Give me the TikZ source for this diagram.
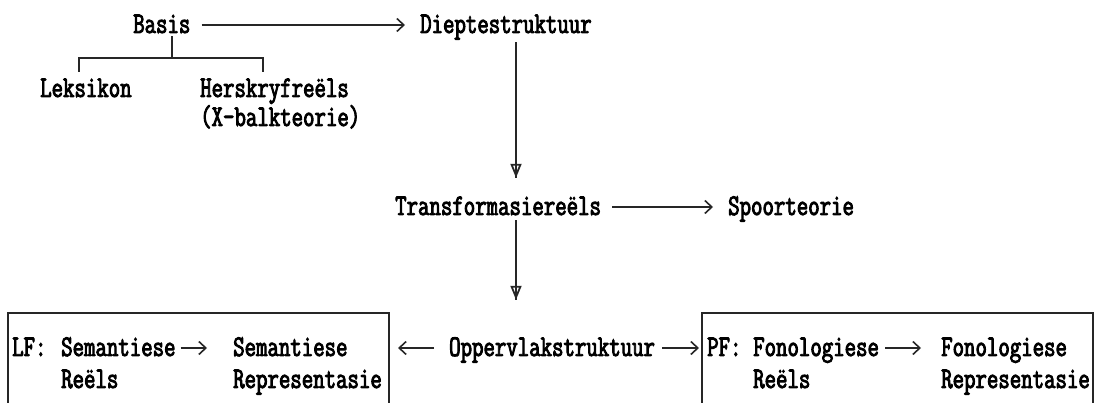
\documentclass[tikz,border=0pt]{standalone}
\usepackage{fontspec}
\setmonofont{Latin Modern Mono}[FakeStretch=0.74, FakeBold=3]
\usetikzlibrary{arrows.meta}
\begin{document}
\begin{tikzpicture}[x=1pt,y=-1pt,
  txt/.style={font=\ttfamily\fontsize{30pt}{34pt}\selectfont, inner sep=0pt,
    text height=16pt, text depth=0pt, anchor=base west, text=black},
  ln/.style={line width=1.4pt, draw=black!85},
  harrow/.style={ln, -{Straight Barb[length=7pt,width=13pt,line width=1.6pt]}},
  varrow/.style={ln, -{Triangle[open,length=14pt,width=11pt,line width=1.8pt]},
    postaction={draw, arrows=-}}]
\useasboundingbox (0,0) rectangle (1096,403);
% top row
\node[txt] (basis) at (133,33) {Basis};
\node[txt] (diep) at (420,33) {Dieptestruktuur};
\node[txt] (lek) at (40,97) {Leksikon};
\node[txt] (hers) at (200,97) {Herskryfreëls};
\node[txt] (xbar) at (200,126) {(X-balkteorie)};
\draw[harrow, shorten <=11pt, shorten >=15pt] (basis.east) -- (diep.west);
% tree
\coordinate (bt) at (172,58);
\coordinate (bl) at (79,72);
\coordinate (br) at (263,72);
\draw[ln] ([yshift=-3pt]basis.south -| bt) -- (bt);
\draw[ln] (bl) |- (bt) -| (br);
% middle
\node[txt] (trans) at (395,215) {Transformasiereëls};
\node[txt] (spoor) at (728,215) {Spoorteorie};
\coordinate (v) at (516,0);
\draw[varrow, shorten <=9pt, shorten >=21pt] (diep.south -| v) -- (trans.north -| v);
\draw[harrow, shorten <=11pt, shorten >=15pt] (trans.east) -- (spoor.west);
% bottom
\node[txt] (opp) at (449,356) {Oppervlakstruktuur};
\draw[varrow, shorten <=5pt, shorten >=40pt] (trans.south -| v) -- (opp.north -| v);
% left box
\draw[ln] (8,403) |- (389,313) -- (389,403);
\node[txt] (lf) at (12,356) {LF:};
\node[txt] (sem1) at (61,356) {Semantiese};
\node[txt] (reel1) at (61,388) {Reëls};
\node[txt] (sem2) at (233,356) {Semantiese};
\node[txt] (rep1) at (233,388) {Representasie};
\draw[harrow, shorten <=5pt, shorten >=26pt] (sem1.east) -- (sem2.west);
% right box
\draw[ln] (702,403) |- (1093,313) -- (1093,403);
\node[txt] (pf) at (707,356) {PF:};
\node[txt] (fon1) at (753,356) {Fonologiese};
\node[txt] (reel2) at (753,388) {Reëls};
\node[txt] (fon2) at (941,356) {Fonologiese};
\node[txt] (rep2) at (941,388) {Representasie};
\draw[harrow, shorten <=6pt, shorten >=20pt] (fon1.east) -- (fon2.west);
% arrows from Oppervlakstruktuur
\coordinate (lbE) at (398,0);
\coordinate (rbW) at (699,0);
\draw[harrow, shorten <=15pt] (opp.west) -- (opp.west -| lbE);
\draw[harrow, shorten <=7pt] (opp.east) -- (opp.east -| rbW);
\end{tikzpicture}
\end{document}
